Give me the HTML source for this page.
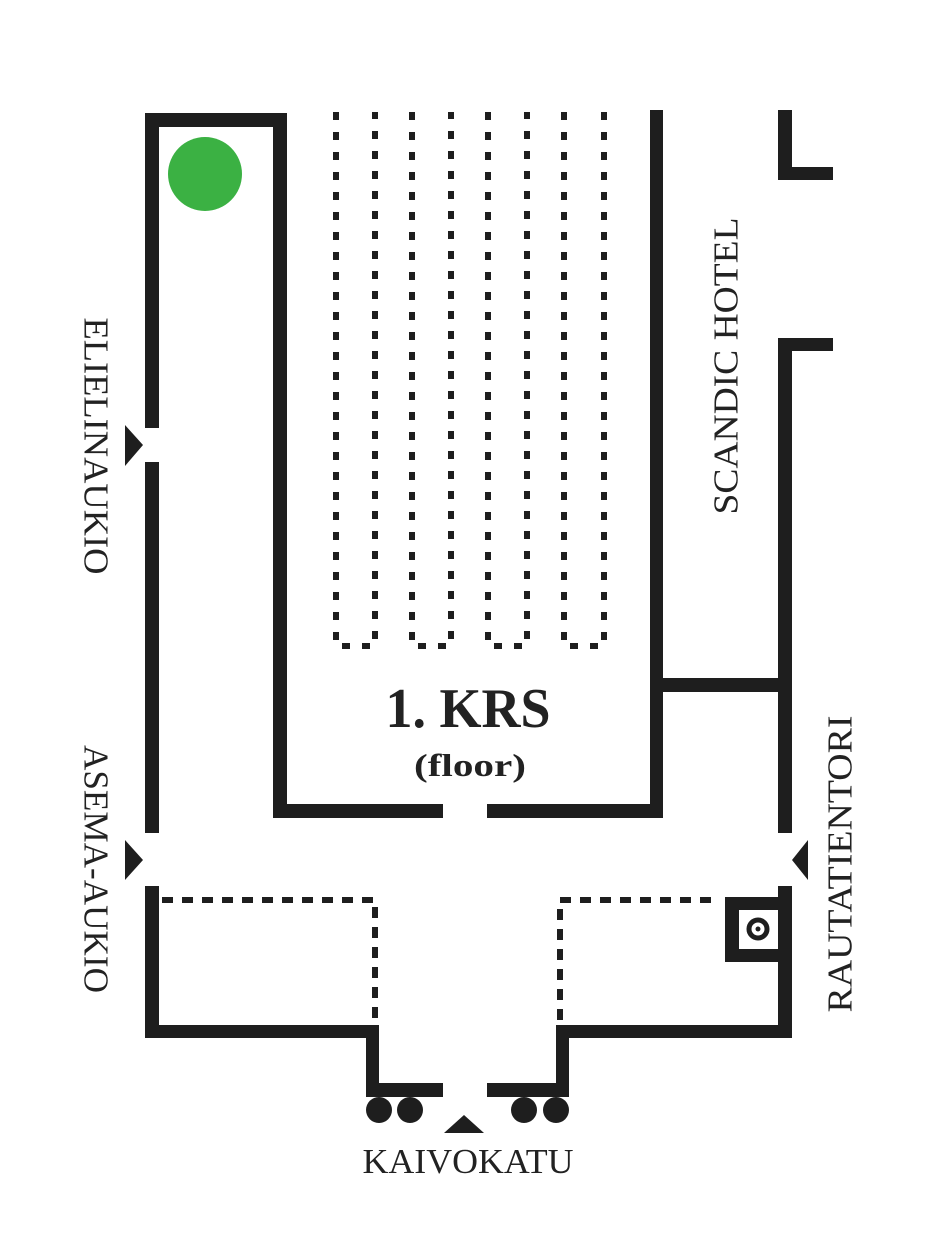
<!DOCTYPE html>
<html><head><meta charset="utf-8"><style>html,body{margin:0;padding:0;background:#fff}svg{display:block}</style></head>
<body>
<svg width="933" height="1250" viewBox="0 0 933 1250" xmlns="http://www.w3.org/2000/svg">
<g fill="#1e1e1e">
<!-- left corridor -->
<rect x="145" y="113" width="142" height="14"/>
<rect x="145" y="113" width="14" height="315"/>
<rect x="145" y="462" width="14" height="371"/>
<rect x="273" y="113" width="14" height="705"/>
<!-- KRS box bottom -->
<rect x="273" y="804" width="170" height="14"/>
<rect x="487" y="804" width="176" height="14"/>
<rect x="650" y="110" width="13" height="708"/>
<rect x="650" y="678" width="141" height="14"/>
<!-- right walls -->
<rect x="778" y="110" width="14" height="70"/>
<rect x="778" y="167" width="55" height="13"/>
<rect x="778" y="338" width="55" height="13"/>
<rect x="778" y="338" width="14" height="495"/>
<rect x="778" y="886" width="14" height="152"/>
<!-- lower left -->
<rect x="145" y="886" width="14" height="152"/>
<rect x="145" y="1025" width="234" height="13"/>
<rect x="366" y="1025" width="13" height="72"/>
<rect x="366" y="1083" width="77" height="14"/>
<!-- lower right -->
<rect x="556" y="1025" width="236" height="13"/>
<rect x="556" y="1025" width="13" height="72"/>
<rect x="487" y="1083" width="82" height="14"/>
<!-- elevator -->
<rect x="725" y="897" width="66" height="65"/>
<!-- arrows -->
<polygon points="125,425 143,445 125,466"/>
<polygon points="125,840 143,860 125,880"/>
<polygon points="808,840 792,860 808,880"/>
<polygon points="444,1133 464,1115 484,1133"/>
<!-- bollards -->
<circle cx="379" cy="1110" r="13"/>
<circle cx="410" cy="1110" r="13"/>
<circle cx="524" cy="1110" r="13"/>
<circle cx="556" cy="1110" r="13"/>
</g>
<rect x="739" y="910" width="39" height="39" fill="#fff"/>
<circle cx="758" cy="929" r="9" fill="none" stroke="#1e1e1e" stroke-width="5"/>
<circle cx="758" cy="929" r="2.5" fill="#1e1e1e"/>
<circle cx="205" cy="174" r="37" fill="#3bb143"/>
<!-- dotted aisles -->
<g fill="none" stroke="#1e1e1e" stroke-width="6" stroke-dasharray="8 12">
<path d="M336 112 V646 H375 V112"/>
<path d="M412 112 V646 H451 V112"/>
<path d="M488 112 V646 H527 V112"/>
<path d="M564 112 V646 H604 V112"/>
</g>
<g fill="none" stroke="#1e1e1e" stroke-width="6" stroke-dasharray="11 9">
<path d="M162 900 H375 V1020"/>
<path d="M560 1020 V900 H720"/>
</g>
<g font-family="Liberation Serif, serif" fill="#222">
<text x="468" y="727" font-size="56" font-weight="bold" text-anchor="middle" textLength="165" lengthAdjust="spacingAndGlyphs">1. KRS</text>
<text x="470" y="776" font-size="32" font-weight="bold" text-anchor="middle" textLength="112" lengthAdjust="spacingAndGlyphs">(floor)</text>
<text x="468" y="1173" font-size="35" text-anchor="middle" textLength="211" lengthAdjust="spacingAndGlyphs">KAIVOKATU</text>
<text transform="translate(96,446) rotate(90)" font-size="35" text-anchor="middle" dominant-baseline="central" textLength="257" lengthAdjust="spacingAndGlyphs">ELIELINAUKIO</text>
<text transform="translate(96,869) rotate(90)" font-size="35" text-anchor="middle" dominant-baseline="central" textLength="248" lengthAdjust="spacingAndGlyphs">ASEMA-AUKIO</text>
<text transform="translate(726,366) rotate(-90)" font-size="35" text-anchor="middle" dominant-baseline="central" textLength="297" lengthAdjust="spacingAndGlyphs">SCANDIC HOTEL</text>
<text transform="translate(840,864) rotate(-90)" font-size="35" text-anchor="middle" dominant-baseline="central" textLength="297" lengthAdjust="spacingAndGlyphs">RAUTATIENTORI</text>
</g>
</svg>
</body></html>
